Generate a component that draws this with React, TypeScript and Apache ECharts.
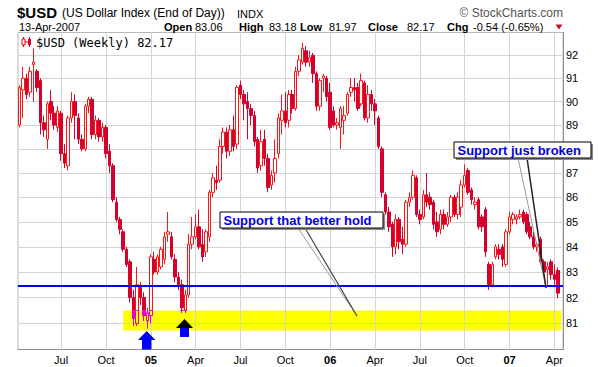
import React, { useEffect, useRef } from "react";
import * as echarts from "echarts";

// ---------- data ----------
const START_MONDAY = "2004-04-12";
const PAD_WEEKS = 1;

// weekly bars: [open, close, low, high]
const OHLC_2004: number[][] = [
  [89.0, 90.6, 88.9, 90.7], [90.5, 91.0, 89.3, 91.5], [91.0, 90.3, 90.1, 91.2], [90.4, 91.3, 90.2, 91.5],
  [91.6, 91.7, 90.0, 92.3], [91.3, 90.6, 90.4, 91.4], [90.9, 89.1, 88.6, 91.0], [89.1, 88.8, 88.5, 89.4],
  [88.4, 89.9, 88.0, 90.0], [90.0, 89.5, 89.2, 90.5], [89.5, 89.0, 88.8, 89.8], [88.9, 89.6, 88.7, 89.8],
  [89.5, 87.8, 87.5, 89.6], [87.8, 87.4, 87.2, 88.2], [87.3, 89.3, 87.1, 89.4], [89.3, 90.0, 89.1, 90.4],
  [90.0, 89.4, 88.4, 90.3], [89.3, 88.4, 88.2, 89.5], [88.4, 88.0, 87.9, 88.6], [88.0, 89.8, 87.9, 89.9],
  [89.8, 90.1, 89.5, 90.2], [90.1, 88.6, 88.4, 90.2], [88.6, 89.2, 88.4, 89.4], [89.2, 88.5, 88.3, 89.3],
  [88.5, 88.9, 88.3, 89.1], [88.9, 87.8, 87.6, 89.0], [87.9, 87.3, 87.0, 88.2], [87.3, 85.9, 85.8, 87.4],
  [85.8, 85.1, 85.0, 86.0], [85.1, 84.7, 84.5, 85.2], [84.6, 83.9, 83.8, 84.7], [83.9, 83.3, 83.2, 84.0],
  [83.4, 82.0, 81.8, 83.5], [82.0, 81.2, 80.9, 82.3], [81.0, 82.5, 80.9, 83.2], [82.4, 82.0, 81.7, 82.6],
  [82.0, 81.3, 81.1, 82.2], [81.1, 81.4, 80.8, 81.6],
];
const OHLC_2005: number[][] = [
  [81.3, 83.6, 81.0, 83.7], [83.5, 83.0, 82.9, 83.8], [83.0, 83.6, 82.9, 83.7], [83.2, 83.9, 83.1, 84.0],
  [83.5, 84.4, 83.3, 84.6], [84.5, 84.6, 84.2, 85.4], [84.4, 83.6, 83.5, 84.6], [83.5, 82.8, 82.6, 83.7],
  [82.8, 82.5, 82.3, 83.0], [82.5, 81.6, 81.4, 82.7], [81.5, 82.1, 81.4, 82.3], [82.1, 84.1, 82.0, 84.5],
  [84.1, 84.4, 83.9, 85.2], [84.4, 84.8, 84.3, 85.3], [84.8, 84.0, 83.9, 85.5], [84.1, 83.6, 83.4, 84.7],
  [83.8, 84.6, 83.6, 84.7], [84.4, 86.2, 84.2, 86.3], [86.2, 86.8, 86.0, 87.0], [86.7, 86.6, 86.3, 87.3],
  [86.7, 88.1, 86.6, 88.4], [88.1, 88.7, 87.8, 88.9], [88.7, 87.9, 87.6, 88.9], [87.9, 88.8, 87.7, 89.0],
  [88.8, 88.1, 87.9, 89.4], [88.2, 90.6, 88.0, 90.7], [90.7, 90.3, 90.1, 90.9], [90.3, 89.9, 89.2, 90.5],
  [90.0, 89.7, 88.4, 90.4], [89.7, 89.4, 89.0, 89.9], [89.4, 88.3, 88.1, 89.6], [88.4, 87.2, 87.0, 88.5],
  [87.3, 88.3, 87.1, 88.8], [88.4, 87.6, 87.3, 88.8], [87.6, 86.4, 86.2, 87.8], [86.5, 86.9, 86.3, 87.1],
  [87.0, 87.6, 86.6, 88.4], [87.8, 89.3, 87.6, 89.5], [89.2, 89.6, 88.6, 90.3], [89.6, 89.1, 88.9, 90.4],
  [89.2, 90.3, 88.9, 90.5], [90.3, 89.7, 89.5, 90.5], [89.7, 91.3, 89.6, 91.5], [91.3, 91.8, 91.1, 92.0],
  [91.7, 92.3, 91.6, 92.55], [92.2, 91.7, 91.5, 92.4], [91.7, 91.9, 91.5, 92.2], [92.0, 91.2, 90.8, 92.1],
  [91.2, 89.8, 89.6, 91.3], [89.8, 90.9, 89.6, 91.0], [91.0, 91.1, 90.4, 91.2], [91.0, 90.2, 90.0, 91.1],
];
const OHLC_2006: number[][] = [
  [90.4, 88.9, 88.8, 90.8], [89.6, 89.0, 88.9, 89.8], [89.0, 89.1, 88.8, 89.3], [88.9, 89.7, 88.0, 89.8],
  [89.2, 89.4, 88.6, 89.8], [89.5, 90.3, 89.4, 90.4], [90.4, 90.6, 90.2, 91.0], [90.6, 90.5, 90.0, 91.0],
  [90.6, 89.7, 89.6, 90.8], [89.9, 90.9, 89.8, 91.2], [90.8, 89.3, 89.2, 90.9], [89.3, 90.3, 89.1, 90.7],
  [90.3, 89.9, 89.6, 90.5], [89.9, 89.6, 89.0, 90.1], [89.3, 88.1, 88.0, 89.4], [88.0, 86.2, 86.0, 88.1],
  [86.1, 85.4, 85.3, 86.2], [85.4, 84.8, 84.6, 85.6], [84.9, 84.0, 83.6, 85.0], [84.0, 85.1, 83.7, 85.3],
  [85.1, 84.2, 83.9, 85.2], [84.3, 84.1, 83.7, 84.8], [84.1, 85.8, 84.0, 85.9], [85.8, 86.0, 85.6, 86.2],
  [86.0, 86.9, 85.9, 87.1], [86.8, 85.3, 85.2, 86.9], [85.3, 85.1, 84.9, 85.5], [85.2, 86.1, 85.1, 86.3],
  [86.1, 85.8, 85.6, 87.0], [86.0, 85.7, 85.5, 86.2], [85.8, 84.9, 84.7, 85.9], [85.0, 84.6, 84.4, 85.4],
  [84.7, 85.3, 84.5, 85.5], [85.3, 84.9, 84.7, 85.5], [84.9, 85.2, 84.8, 85.4], [85.2, 86.0, 85.0, 86.1],
  [86.0, 85.3, 85.2, 86.1], [85.3, 86.0, 85.1, 86.2], [85.6, 86.5, 85.2, 86.7], [86.5, 86.9, 86.4, 87.35],
  [87.1, 86.2, 86.1, 87.2], [86.3, 85.9, 85.7, 86.4], [85.7, 85.8, 85.5, 86.0], [85.9, 84.8, 84.7, 86.0],
  [85.2, 84.8, 84.6, 85.3], [85.5, 83.8, 83.6, 85.6], [83.3, 82.5, 82.3, 83.4], [82.5, 83.3, 82.4, 83.4],
  [83.6, 84.0, 83.5, 84.1], [83.9, 83.7, 83.5, 84.1], [84.0, 83.5, 83.2, 84.1], [83.3, 84.6, 83.2, 84.7],
];
const OHLC_2007: number[][] = [
  [84.6, 85.2, 84.5, 85.4], [85.1, 85.3, 84.9, 85.4], [85.1, 85.2, 84.9, 85.3], [85.2, 85.3, 85.1, 85.5],
  [85.4, 85.0, 84.9, 85.5], [85.3, 84.6, 84.5, 85.4], [84.8, 84.4, 84.3, 85.0], [84.4, 84.0, 83.9, 84.6],
  [84.0, 84.1, 83.8, 84.2], [84.3, 83.4, 83.3, 84.4], [83.4, 83.0, 82.9, 83.5], [83.1, 83.2, 82.5, 83.4],
  [83.4, 82.9, 82.7, 83.5], [82.9, 82.71, 82.5, 83.3], [83.06, 82.17, 81.97, 83.18],
];

// gridline levels; labelled ones (88 sits under the "Support just broken" note in the reference)
const Y_TICKS = [81, 82, 83, 84, 85, 86, 87, 88, 89, 90, 91, 92];
const Y_TICKS_UNLABELLED = [88];
const Y_MIN = 80;
const Y_MAX = 93;
const SUPPORT_LEVEL = 82.45;
const BAND_LOW = 80.73;
const BAND_HIGH = 81.5;
const BAND_START_WEEK = 30;
const MONTHS = ["Jan", "Feb", "Mar", "Apr", "May", "Jun", "Jul", "Aug", "Sep", "Oct", "Nov", "Dec"];

const HEADER_DATE = "13-Apr-2007";
// [label, value, labelX, valueX]
const HEADER_STATS: [string, string, number, number][] = [
  ["Open", "83.06", 164, 195],
  ["High", "83.18", 239, 269],
  ["Low", "81.97", 300, 329],
  ["Close", "82.17", 368, 407],
  ["Chg", "-0.54 (-0.65%)", 447, 473],
];
const LEGEND_TEXT = "$USD (Weekly) 82.17";

// ---------- derived ----------
const BARS: number[][] = [...OHLC_2004, ...OHLC_2005, ...OHLC_2006, ...OHLC_2007];
const N_CAT = BARS.length + PAD_WEEKS;
const START_MS = Date.parse(START_MONDAY + "T00:00:00Z");
const DATES: string[] = Array.from({ length: N_CAT }, (_, i) =>
  new Date(START_MS + i * 7 * 86400000).toISOString().slice(0, 10)
);
const monthOf = (d: string) => parseInt(d.slice(5, 7), 10);
const isQuarterStart = (i: number) =>
  i > 0 && monthOf(DATES[i]) !== monthOf(DATES[i - 1]) && (monthOf(DATES[i]) - 1) % 3 === 0;

const clampBand = (v: number) => Math.min(BAND_HIGH, Math.max(BAND_LOW, v));
const BAND_PART = BARS.map(([o, c, l, h]) =>
  l < BAND_HIGH ? [clampBand(o), clampBand(c), clampBand(l), clampBand(h)] : "-"
);

const FONT = "Liberation Sans, Arial, sans-serif";

export default function App() {
  const ref = useRef<HTMLDivElement>(null);

  useEffect(() => {
    if (!ref.current) return;
    const chart = echarts.init(ref.current, null, { renderer: "svg" });

    const txt = (text: string, x: number, y: number, font: string, fill = "#000", align = "left") => ({
      type: "text", x, y, z: 100,
      style: { text, font, fill, textAlign: align, textVerticalAlign: "middle" },
    });

    const graphics: any[] = [
      txt("$USD", 17, 12.5, `bold 15px ${FONT}`),
      txt("(US Dollar Index (End of Day))", 62, 13, `12px ${FONT}`),
      txt("INDX", 237, 13.5, `11px ${FONT}`),
      txt("© StockCharts.com", 563, 12.5, `12px ${FONT}`, "#555", "right"),
      txt(HEADER_DATE, 19, 26.5, `11px ${FONT}`),
      ...HEADER_STATS.flatMap(([label, val, lx, vx]) => [
        txt(label, lx, 26.5, `bold 11px ${FONT}`),
        txt(val, vx, 26.5, `11px ${FONT}`),
      ]),
      { type: "polygon", z: 100, shape: { points: [[555.5, 24.5], [562.5, 24.5], [559, 29.5]] }, style: { fill: "#c8102e" } },
      // legend icon
      { type: "line", z: 100, shape: { x1: 23.5, y1: 37, x2: 23.5, y2: 47 }, style: { stroke: "#e00", lineWidth: 1 } },
      { type: "rect", z: 100, shape: { x: 22, y: 39, width: 3, height: 6 }, style: { fill: "#fff", stroke: "#e00", lineWidth: 1 } },
      { type: "line", z: 100, shape: { x1: 29.5, y1: 37, x2: 29.5, y2: 47 }, style: { stroke: "#d6002d", lineWidth: 1 } },
      { type: "rect", z: 100, shape: { x: 28, y: 39, width: 3, height: 6 }, style: { fill: "#d6002d" } },
      { type: "line", z: 100, shape: { x1: 25, y1: 42, x2: 28, y2: 42 }, style: { stroke: "#e00", lineWidth: 1 } },
      txt(LEGEND_TEXT, 36, 42.5, `12px DejaVu Sans Mono, monospace`),
      // annotation 1
      { type: "line", z: 99, shape: { x1: 298, y1: 228, x2: 357, y2: 316 }, style: { stroke: "#999", lineWidth: 1 } },
      { type: "line", z: 99, shape: { x1: 305, y1: 228, x2: 357, y2: 316 }, style: { stroke: "#444", lineWidth: 1.2 } },
      { type: "rect", z: 100, shape: { x: 222, y: 214, width: 163, height: 16 }, style: { fill: "#8a8a8a" } },
      { type: "rect", z: 101, shape: { x: 220, y: 212, width: 163, height: 16 }, style: { fill: "#fff", stroke: "#000", lineWidth: 1 } },
      { ...txt("Support that better hold", 223.5, 220.5, `bold 13px ${FONT}`, "#0000ee"), z: 102 },
      // annotation 2
      { type: "line", z: 99, shape: { x1: 518, y1: 158, x2: 546, y2: 288 }, style: { stroke: "#999", lineWidth: 1 } },
      { type: "line", z: 99, shape: { x1: 527, y1: 158, x2: 546, y2: 288 }, style: { stroke: "#222", lineWidth: 1.5 } },
      { type: "rect", z: 100, shape: { x: 456, y: 144, width: 137, height: 16 }, style: { fill: "#8a8a8a" } },
      { type: "rect", z: 101, shape: { x: 454, y: 142, width: 137, height: 16 }, style: { fill: "#fff", stroke: "#000", lineWidth: 1 } },
      { ...txt("Support just broken", 457.5, 150.5, `bold 13px ${FONT}`, "#0000ee"), z: 102 },
      // arrows
      { type: "polygon", z: 100, shape: { points: [[146.7, 331], [138, 340], [155.4, 340]] }, style: { fill: "#0000ff" } },
      { type: "rect", z: 100, shape: { x: 142, y: 340, width: 9.4, height: 9.5 }, style: { fill: "#0000ff" } },
      { type: "polygon", z: 100, shape: { points: [[184.5, 319], [176, 328], [193, 328]] }, style: { fill: "#000" } },
      { type: "rect", z: 100, shape: { x: 180, y: 328, width: 9, height: 9 }, style: { fill: "#0000ff" } },
    ];

    const option: any = {
      animation: false,
      backgroundColor: "#fff",
      grid: {
        left: 18, right: 37, top: 32.5, bottom: 17.5,
        show: true, borderColor: "#b8b8b8", borderWidth: 1,
        containLabel: false, outerBoundsMode: "none",
      },
      xAxis: {
        type: "category",
        data: DATES,
        boundaryGap: true,
        axisLine: { show: true, lineStyle: { color: "#888", type: "dotted" } },
        axisTick: { show: false },
        splitLine: { show: false },
        axisLabel: {
          interval: (i: number) => isQuarterStart(i),
          margin: 5,
          formatter: (v: string) => {
            const m = monthOf(v);
            return m === 1 ? `{y|${v.slice(2, 4)}}` : `{m|${MONTHS[m - 1]}}`;
          },
          rich: {
            y: { fontWeight: "bold", fontSize: 11, fontFamily: FONT, color: "#000" },
            m: { fontSize: 11, fontFamily: FONT, color: "#000" },
          },
        },
      },
      yAxis: {
        type: "log",
        logBase: 10,
        min: Y_MIN,
        max: Y_MAX,
        position: "right",
        axisLine: { show: true, lineStyle: { color: "#888", type: "dotted" } },
        axisTick: { show: false },
        axisLabel: { show: false },
        splitLine: { show: false },
        minorSplitLine: { show: false },
      },
      graphic: graphics,
      series: [
        {
          name: "band",
          type: "line",
          data: [],
          silent: true,
          z: 1,
          markArea: {
            silent: true,
            z: 1,
            itemStyle: { color: "#ffff00" },
            data: [[
              { xAxis: DATES[BAND_START_WEEK], yAxis: BAND_HIGH },
              { xAxis: DATES[N_CAT - 1], yAxis: BAND_LOW },
            ]],
          },
        },
        {
          name: "grid",
          type: "line",
          data: [],
          silent: true,
          z: 2,
          markLine: {
            silent: true,
            z: 2,
            symbol: "none",
            animation: false,
            lineStyle: { color: "#d4d4d4", width: 1, type: "solid" },
            label: {
              show: true,
              position: "end",
              distance: 3,
              formatter: "{b}",
              color: "#000",
              fontSize: 11,
              fontFamily: FONT,
            },
            emphasis: { disabled: true },
            data: [
              ...Y_TICKS.map((v) => ({
                name: String(v),
                yAxis: v,
                label: { show: !Y_TICKS_UNLABELLED.includes(v) },
              })),
              ...DATES.filter((_, i) => isQuarterStart(i)).map((d) => ({ xAxis: d, label: { show: false } })),
            ],
          },
        },
        {
          name: "$USD",
          type: "candlestick",
          data: BARS,
          z: 5,
          barWidth: 3,
          silent: true,
          itemStyle: {
            color: "#ffffff",
            color0: "#d6002d",
            borderColor: "#ff1414",
            borderColor0: "#d6002d",
            borderWidth: 1,
          },
        },
        {
          name: "inBand",
          type: "candlestick",
          data: BAND_PART,
          z: 6,
          barWidth: 3,
          silent: true,
          itemStyle: {
            color: "#ffff00",
            color0: "#e000e0",
            borderColor: "#e000e0",
            borderColor0: "#e000e0",
            borderWidth: 1,
          },
        },
        {
          name: "support",
          type: "line",
          data: [],
          silent: true,
          z: 8,
          markLine: {
            silent: true,
            z: 8,
            symbol: "none",
            label: { show: false },
            lineStyle: { color: "#0000ff", width: 2, type: "solid" },
            emphasis: { disabled: true },
            data: [{ yAxis: SUPPORT_LEVEL }],
          },
        },
      ],
    };

    chart.setOption(option);
    return () => chart.dispose();
  }, []);

  return (
    <div
      ref={ref}
      style={{ position: "fixed", left: 0, top: 0, width: 600, height: 367, background: "#fff" }}
    />
  );
}
